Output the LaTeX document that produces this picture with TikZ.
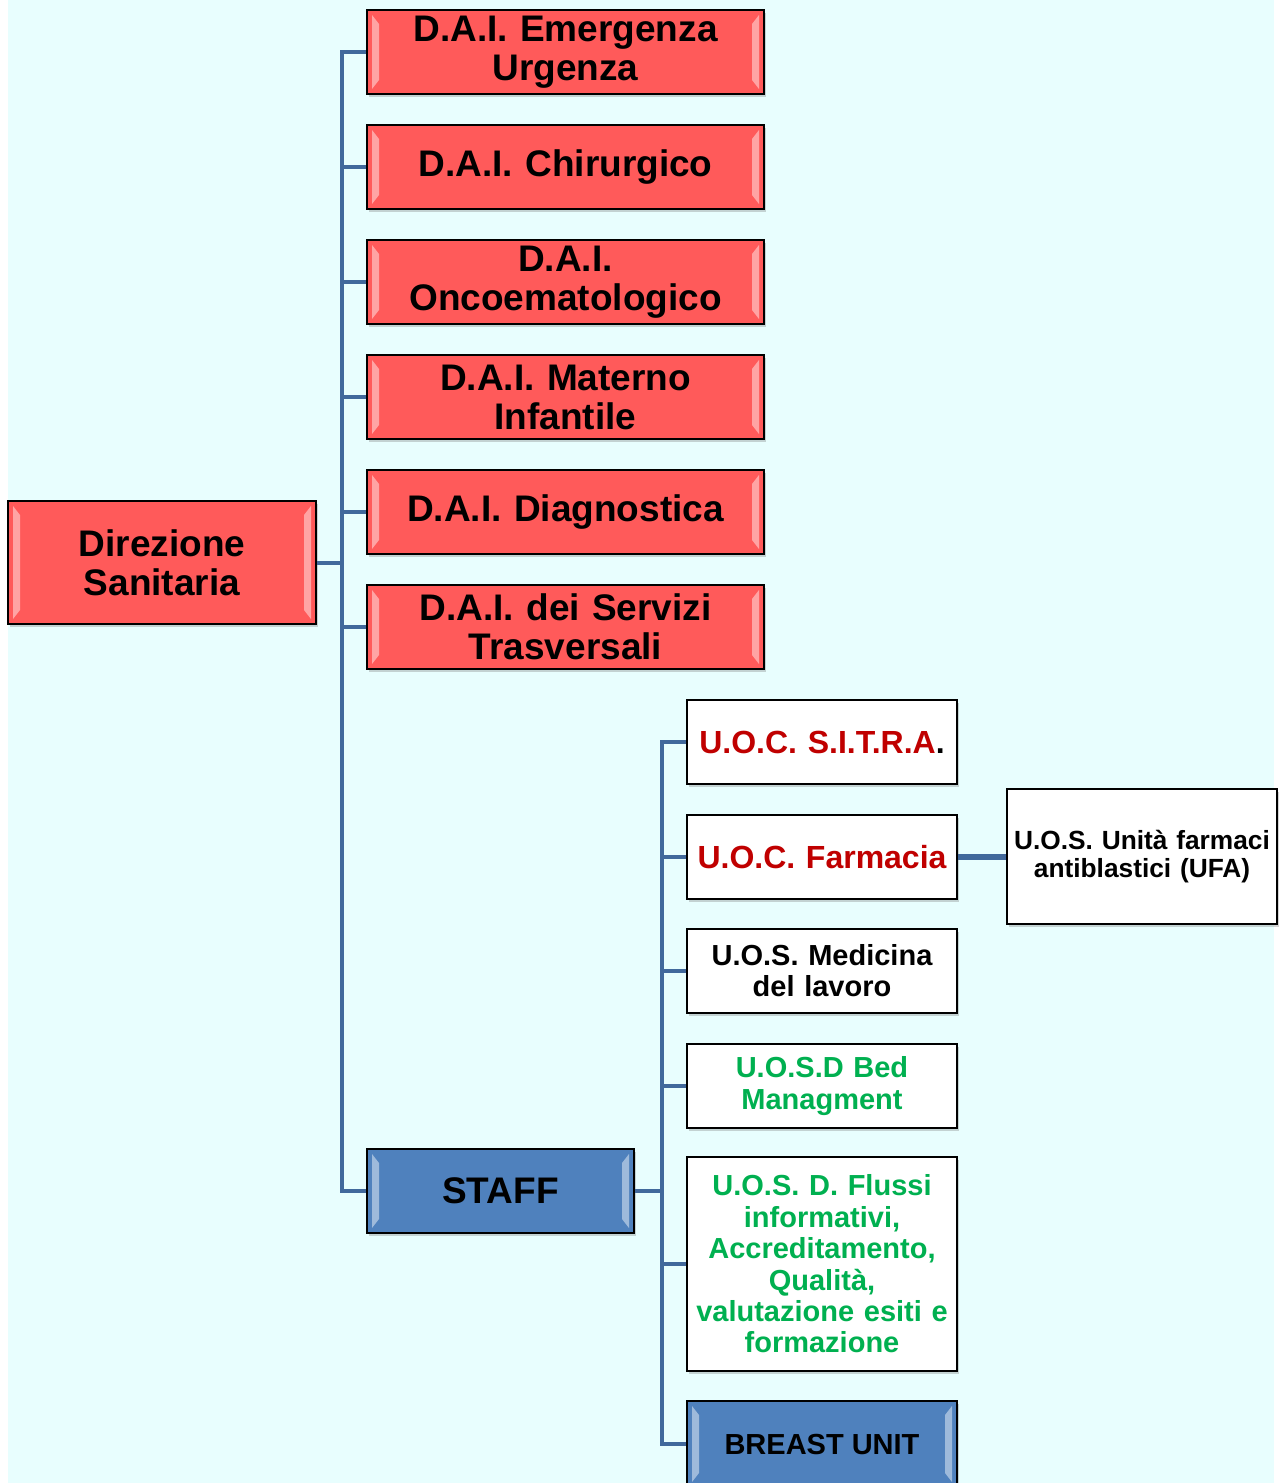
\documentclass[tikz,border=0pt]{standalone}
\usepackage{fontspec}
\setmainfont{Liberation Sans}
\usetikzlibrary{calc,shadows}
\definecolor{bgcyan}{HTML}{E8FEFE}
\definecolor{boxred}{HTML}{FF5A5A}
\definecolor{boxblue}{HTML}{4F81BD}
\definecolor{linkblue}{HTML}{41699C}
\definecolor{txtred}{HTML}{C00000}
\definecolor{txtgreen}{HTML}{00B050}
\tikzset{
  box/.style={draw=black, line width=1.8pt, inner sep=0pt, align=center,
    font=\bfseries, drop shadow={opacity=0.35, shadow xshift=2pt, shadow yshift=-3pt}},
  bevel/.style={path picture={
    \fill[#1]
      ($(path picture bounding box.north west)+(5pt,-5pt)$) --
      ($(path picture bounding box.north west)+(12pt,-14pt)$) --
      ($(path picture bounding box.south west)+(12pt,14pt)$) --
      ($(path picture bounding box.south west)+(5pt,5pt)$) -- cycle;
    \fill[#1]
      ($(path picture bounding box.north east)+(-5pt,-5pt)$) --
      ($(path picture bounding box.north east)+(-12pt,-14pt)$) --
      ($(path picture bounding box.south east)+(-12pt,14pt)$) --
      ($(path picture bounding box.south east)+(-5pt,5pt)$) -- cycle;
  }},
  redbox/.style={box, fill=boxred, bevel=white!45!boxred,
    minimum width=397pt, minimum height=84pt, text width=380pt,
    font=\bfseries\fontsize{37}{39}\selectfont},
  bluebox/.style={box, fill=boxblue, bevel=white!45!boxblue},
  whitebox/.style={box, fill=white, minimum width=270pt, minimum height=84pt,
    text width=262pt},
  conn/.style={draw=linkblue, line width=4pt, line join=miter},
}
\begin{document}
\begin{tikzpicture}[x=1pt, y=-1pt]
  \useasboundingbox (0,0) rectangle (1280,1483);
  \fill[bgcyan] (8,0) rectangle (1274,1483);

  % head of the tree
  \node[redbox, minimum width=308pt, minimum height=123pt, text width=290pt]
    (dir) at (162,562.5) {Direzione\\Sanitaria};

  % departments
  \node[redbox] (dai1) at (565.5,52)  {D.A.I. Emergenza\\Urgenza};
  \node[redbox] (dai2) at (565.5,167) {D.A.I. Chirurgico};
  \node[redbox] (dai3) at (565.5,282) {D.A.I.\\Oncoematologico};
  \node[redbox] (dai4) at (565.5,397) {D.A.I. Materno\\Infantile};
  \node[redbox] (dai5) at (565.5,512) {D.A.I. Diagnostica};
  \node[redbox] (dai6) at (565.5,627) {D.A.I. dei Servizi\\Trasversali};

  \node[bluebox, minimum width=267pt, minimum height=84pt,
    font=\bfseries\fontsize{37}{39}\selectfont]
    (staff) at (500.5,1191) {STAFF};

  % staff units
  \node[whitebox, font=\bfseries\fontsize{32}{34}\selectfont, text=txtred]
    (sitra) at (822,742) {U.O.C. S.I.T.R.A\textcolor{black}{.}};
  \node[whitebox, font=\bfseries\fontsize{32}{34}\selectfont, text=txtred]
    (farm) at (822,857) {U.O.C. Farmacia};
  \node[whitebox, font=\bfseries\fontsize{29}{31}\selectfont]
    (medl) at (822,971) {U.O.S. Medicina\\del lavoro};
  \node[whitebox, font=\bfseries\fontsize{29}{32}\selectfont, text=txtgreen]
    (bed) at (822,1086) {U.O.S.D Bed\\Managment};
  \node[whitebox, minimum height=214pt, font=\bfseries\fontsize{29}{31.4}\selectfont, text=txtgreen]
    (flussi) at (822,1264) {U.O.S. D. Flussi\\informativi,\\Accreditamento,\\Qualità,\\valutazione esiti e\\formazione};
  \node[bluebox, minimum width=270pt, minimum height=86pt,
    font=\bfseries\fontsize{29}{31}\selectfont]
    (breast) at (822,1444) {BREAST UNIT};

  \node[whitebox, minimum height=135pt, font=\bfseries\fontsize{26.3}{28}\selectfont]
    (ufa) at (1142,856.5) {U.O.S. Unità farmaci\\antiblastici (UFA)};

  % vertical buses
  \coordinate (busA) at (342,0);
  \coordinate (busB) at (662,0);

  % connectors from the head
  \draw[conn] (dai1.west) -| (busA |- staff.west) -- (staff.west);
  \foreach \n in {dai2,dai3,dai4,dai5,dai6}
    \draw[conn] (\n.west) -- (busA |- \n.west);
  \draw[conn] (dir.east) -- (busA |- dir.east);

  % connectors from the staff
  \draw[conn] (sitra.west) -| (busB |- breast.west) -- (breast.west);
  \foreach \n in {farm,medl,bed,flussi}
    \draw[conn] (\n.west) -- (busB |- \n.west);
  \draw[conn] (staff.east) -- (busB |- staff.east);

  \draw[conn, line width=6pt] (farm.east) -- (ufa.west |- farm.east);
\end{tikzpicture}
\end{document}
